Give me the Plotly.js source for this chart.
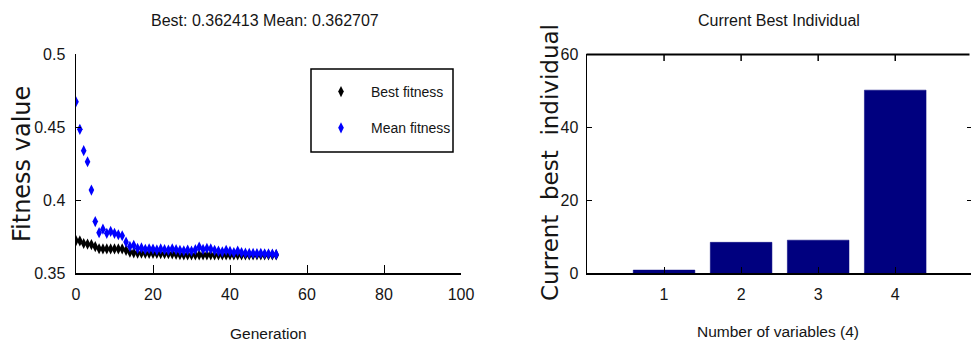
<!DOCTYPE html>
<html>
<head>
<meta charset="utf-8">
<script src="https://cdn.plot.ly/plotly-3.0.1.min.js"></script>
<style>
html,body{margin:0;padding:0;overflow:hidden;background:#fff;width:971px;height:349px;}
#chart{width:974px;height:349px;}
</style>
</head>
<body>
<div id="chart"></div>
<script>
// ---- data ----
var generations = [];
for (var g = 0; g <= 52; g++) generations.push(g);

var bestFitness = [
  0.3722, 0.3720, 0.3702, 0.3698, 0.3695, 0.3680, 0.3666, 0.3665, 0.3665, 0.3665,
  0.3665, 0.3665, 0.3665, 0.3655, 0.3642, 0.3638, 0.3636, 0.3636, 0.3635, 0.3635,
  0.3634, 0.3634, 0.3633, 0.3632, 0.3632, 0.3631, 0.3628, 0.3625, 0.362413, 0.362413,
  0.362413, 0.362413, 0.362413, 0.362413, 0.362413, 0.362413, 0.362413, 0.362413, 0.362413, 0.362413,
  0.362413, 0.362413, 0.362413, 0.362413, 0.362413, 0.362413, 0.362413, 0.362413, 0.362413, 0.362413,
  0.362413, 0.362413, 0.362413
];

var meanFitness = [
  0.4673, 0.4484, 0.4338, 0.4262, 0.4068, 0.3852, 0.3776, 0.3800, 0.3772, 0.3785,
  0.3772, 0.3762, 0.3755, 0.3712, 0.3682, 0.3690, 0.3668, 0.3672, 0.3662, 0.3666,
  0.3664, 0.3658, 0.3665, 0.3660, 0.3657, 0.3666, 0.3660, 0.3655, 0.3652, 0.3657,
  0.3650, 0.3660, 0.3678, 0.3662, 0.3668, 0.3665, 0.3655, 0.3650, 0.3645, 0.3655,
  0.3648, 0.3640, 0.3650, 0.3640, 0.3636, 0.3635, 0.3634, 0.3633, 0.3635, 0.3632,
  0.3631, 0.3630, 0.362707
];

var variableIndex = [1, 2, 3, 4];
var bestIndividual = [0.8, 8.4, 9.0, 50.1];

var leftTitle = "Best: 0.362413 Mean: 0.362707";
var rightTitle = "Current Best Individual";
var leftXTitle = "Generation";
var leftYTitle = "Fitness value";
var rightXTitle = "Number of variables (4)";
var rightYTitle = "Current  best  individual";

// ---- layout helpers ----
var W = 974, H = 349;
function px(x){ return x / W; }
function py(y){ return (H - y) / H; }

var narrow = "Liberation Sans, Arial, sans-serif";
var wide = "DejaVu Sans, Verdana, sans-serif";
var txt = "#151515";

var traces = [
  {
    x: generations, y: bestFitness, type: "scatter", mode: "markers",
    name: "Best fitness", legendgroup: "a",
    marker: {symbol: "diamond-tall", size: 8, color: "#000000"},
    xaxis: "x", yaxis: "y"
  },
  {
    x: generations, y: meanFitness, type: "scatter", mode: "markers",
    name: "Mean fitness", legendgroup: "b",
    marker: {symbol: "diamond-tall", size: 8, color: "#0000FF"},
    xaxis: "x", yaxis: "y"
  },
  {
    x: variableIndex, y: bestIndividual, type: "bar", width: 0.8,
    marker: {color: "#00007F", line: {color: "#00007F", width: 0.5}},
    showlegend: false, xaxis: "x2", yaxis: "y2"
  }
];

var axisCommon = {
  showgrid: false, zeroline: false, showline: true, linecolor: "#000", linewidth: 1.5,
  ticks: "inside", tickcolor: "#000", tickwidth: 1,
  tickfont: {family: narrow, size: 16, color: txt}
};

var topY = py(54.5);
var shapes = [
  // top frame line of the bar chart (MATLAB box style)
  {type: "line", xref: "paper", yref: "paper", x0: px(586.5), x1: px(969.5), y0: topY, y1: topY,
   line: {color: "#000000", width: 2}, layer: "above"},
  // legend box
  {type: "rect", xref: "paper", yref: "paper", x0: px(311), x1: px(453), y0: py(152), y1: py(69),
   line: {color: "#000", width: 1.5}, fillcolor: "rgba(0,0,0,0)"}
];

var layout = {
  width: W, height: H,
  margin: {l: 0, r: 0, t: 0, b: 0},
  paper_bgcolor: "#fff", plot_bgcolor: "#fff",
  showlegend: true,
  legend: {
    x: px(311), y: py(76), xanchor: "left", yanchor: "top",
    borderwidth: 0, bgcolor: "rgba(0,0,0,0)",
    font: {family: narrow, size: 14, color: txt},
    tracegroupgap: 15, itemwidth: 50
  },
  xaxis: Object.assign({}, axisCommon, {
    domain: [px(76), px(461)], range: [0, 100], dtick: 20, ticklen: 8,
    anchor: "y", ticklabelstandoff: 6
  }),
  yaxis: Object.assign({}, axisCommon, {
    domain: [py(273), py(54)], range: [0.35, 0.5], dtick: 0.05, ticklen: 5,
    anchor: "x", ticklabelstandoff: 6
  }),
  xaxis2: Object.assign({}, axisCommon, {
    domain: [px(587), px(972.3)], range: [0, 5], tickvals: variableIndex, ticklen: 6,
    anchor: "y2", ticklabelstandoff: 6
  }),
  yaxis2: Object.assign({}, axisCommon, {
    domain: [py(273), py(54)], range: [0, 60], dtick: 20, ticklen: 5,
    anchor: "x2", mirror: "ticks", ticklabelstandoff: 4
  }),
  shapes: shapes,
  annotations: [
    {text: leftTitle, xref: "paper", yref: "paper", x: px(265), y: py(20),
     xanchor: "center", yanchor: "middle", showarrow: false,
     font: {family: narrow, size: 16, color: txt}},
    {text: rightTitle, xref: "paper", yref: "paper", x: px(779), y: py(21),
     xanchor: "center", yanchor: "middle", showarrow: false,
     font: {family: narrow, size: 16, color: txt}},
    {text: leftXTitle, xref: "paper", yref: "paper", x: px(268), y: py(333),
     xanchor: "center", yanchor: "middle", showarrow: false,
     font: {family: narrow, size: 15.5, color: txt}},
    {text: rightXTitle, xref: "paper", yref: "paper", x: px(778), y: py(331),
     xanchor: "center", yanchor: "middle", showarrow: false,
     font: {family: narrow, size: 15.5, color: txt}},
    {text: leftYTitle, xref: "paper", yref: "paper", x: px(22), y: py(164),
     xanchor: "center", yanchor: "middle", textangle: -90, showarrow: false,
     font: {family: wide, size: 24, color: txt}},
    {text: rightYTitle, xref: "paper", yref: "paper", x: px(550), y: py(163),
     xanchor: "center", yanchor: "middle", textangle: -90, showarrow: false,
     font: {family: wide, size: 23, color: txt}}
  ]
};

var gd = document.getElementById("chart");
Plotly.newPlot(gd, traces, layout, {displayModeBar: false, staticPlot: true}).then(function(){
  // mirrored top ticks at the bar positions, placed with the axis' own scale
  var xa = gd._fullLayout.xaxis2;
  var extra = variableIndex.map(function(v){
    var xp = (xa._offset + xa.l2p(v)) / W;
    return {type: "line", xref: "paper", yref: "paper", x0: xp, x1: xp, y0: topY, y1: py(61),
            line: {color: "#000000", width: 1.5}, layer: "above"};
  });
  return Plotly.relayout(gd, {shapes: shapes.concat(extra)});
});
</script>
</body>
</html>
